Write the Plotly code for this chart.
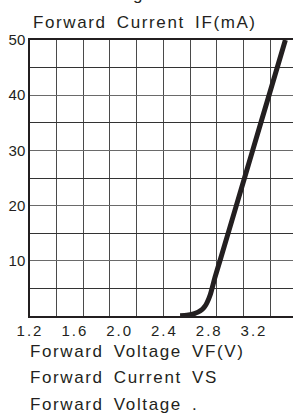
import plotly.graph_objects as go

# Forward voltage (V) vs forward current (mA)
vf = [2.54, 2.60, 2.66, 2.70, 2.735, 2.76, 2.78, 2.81, 2.85, 2.896, 3.042, 3.188, 3.334, 3.48]
i_f = [0.05, 0.12, 0.38, 0.7, 1.15, 1.7, 2.4, 3.9, 6.9, 10, 20, 30, 40, 50]

x_tick_vals = [1.2, 1.6, 2.0, 2.4, 2.8, 3.2]
x_tick_text = ["1.2", "1.6", "2.0", "2.4", "2.8", "3.2"]
x_grid_vals = [1.438, 1.676, 1.914, 2.152, 2.390, 2.629, 2.867, 3.105, 3.343]
y_tick_vals = [10, 20, 30, 40, 50]
y_tick_text = ["10", "20", "30", "40", "50"]
y_grid_minor = [5, 15, 25, 35, 45]

title_text = "Forward Current IF(mA)"
xlabel_text = "Forward Voltage VF(V)"
caption_lines = ["Forward Current VS", "Forward Voltage ."]
top_fragment = "g"

INK = "#231f20"
FONT = "Liberation Sans, Arial, sans-serif"
SP = "letter-spacing:1.6px;word-spacing:4px"


def spaced(t, style=SP):
    return '<span style="%s">%s</span>' % (style, t)


fig = go.Figure()
fig.add_trace(go.Scatter(
    x=vf, y=i_f, mode="lines",
    line=dict(color=INK, width=5, shape="spline", smoothing=0.6),
    cliponaxis=False, hoverinfo="skip", showlegend=False,
))

fig.update_layout(
    width=293, height=419,
    margin=dict(l=30, r=0, t=40, b=103, autoexpand=False),
    paper_bgcolor="white", plot_bgcolor="white",
    font=dict(family=FONT, color=INK, size=15),
    xaxis=dict(
        range=[1.2, 3.548], showgrid=False, zeroline=False,
        showline=True, linecolor=INK, linewidth=1.5, mirror=True,
        tickmode="array", tickvals=x_tick_vals,
        ticktext=[spaced(t, "letter-spacing:2px") for t in x_tick_text],
        ticks="", tickfont=dict(size=15, color=INK), automargin=False,
        minor=dict(tickmode="array", tickvals=x_grid_vals, showgrid=True,
                   gridcolor="#4a4a4a", gridwidth=1, ticks=""),
    ),
    yaxis=dict(
        range=[0, 50], zeroline=False,
        showline=True, linecolor=INK, linewidth=1.5, mirror=False,
        tickmode="array", tickvals=y_tick_vals, ticktext=y_tick_text,
        ticks="", tickfont=dict(size=15, color=INK), automargin=False,
        showgrid=True, gridcolor="#6a6a6a", gridwidth=1,
        minor=dict(tickmode="array", tickvals=y_grid_minor, showgrid=True,
                   gridcolor="#333333", gridwidth=1, ticks=""),
    ),
)

ann = dict(xref="paper", yref="paper", showarrow=False,
           font=dict(family=FONT, size=17, color=INK), xanchor="left", yanchor="middle")
fig.add_annotation(text=spaced(title_text), x=0.004, y=1.0652, **ann)
fig.add_annotation(text=spaced(xlabel_text), x=-0.008, y=-0.130, **ann)
fig.add_annotation(text=spaced(caption_lines[0]), x=-0.008, y=-0.2246, **ann)
fig.add_annotation(text=spaced(caption_lines[1]), x=-0.008, y=-0.3207, **ann)
fig.add_annotation(text=top_fragment, x=0.4106, y=1.166, xref="paper", yref="paper",
                   showarrow=False, font=dict(family=FONT, size=17, color=INK),
                   xanchor="center", yanchor="middle")

fig.write_html(
    "out.html",
    config={"displayModeBar": False},
    post_script="document.body.style.margin='0';document.body.style.padding='0';",
)
